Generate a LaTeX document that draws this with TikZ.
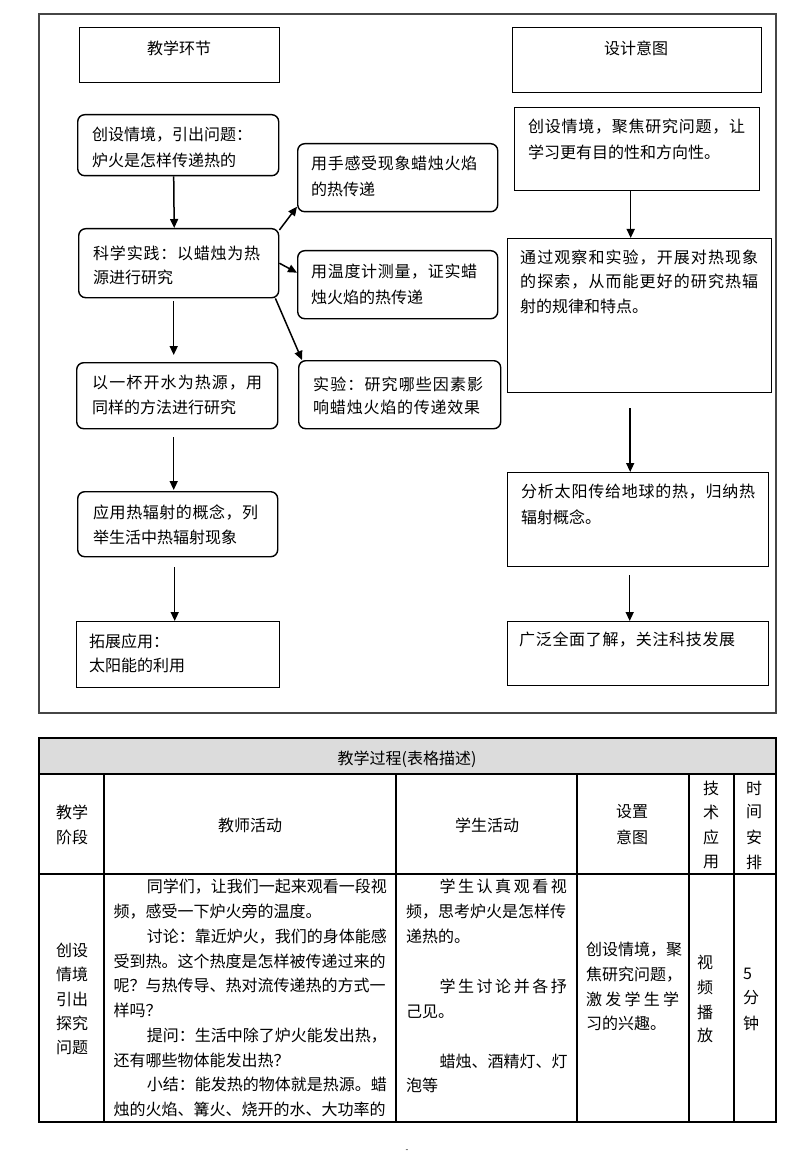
\documentclass[tikz,border=0pt]{standalone}
\usepackage{fontspec}
\newfontfamily\cjk{Noto Sans CJK SC}
\usetikzlibrary{arrows.meta}
\definecolor{hdrgray}{RGB}{220,220,220}
\definecolor{framegray}{RGB}{70,70,70}
\newcommand\spr[2]{\makebox[#1][s]{\sprfirst#2\relax}}
\def\sprfirst#1{#1\sprrest}
\def\sprrest#1{\ifx#1\relax\else\hfil#1\expandafter\sprrest\fi}
\begin{document}
\begin{tikzpicture}[x=1pt,y=-1pt,
  txt/.style={inner sep=0pt, anchor=west, font=\cjk\fontsize{16}{16}\selectfont},
  ctxt/.style={inner sep=0pt, anchor=center, font=\cjk\fontsize{16}{16}\selectfont},
  rbox/.style={draw, line width=1.4pt, rounded corners=7pt, anchor=north west, inner sep=0pt},
  sbox/.style={draw, line width=1.4pt, anchor=north west, inner sep=0pt},
  arr/.style={line width=1.5pt, -{Triangle[length=9pt,width=8pt]}},
  tline/.style={line width=1.2pt}]
\useasboundingbox (0,0) rectangle (800,1155);
\fill[white] (0,0) rectangle (800,1155);

% outer frame
\draw[line width=1.5pt, framegray] (39,14) rectangle (776,713);

% left column boxes
\node[sbox, minimum width=200pt, minimum height=55pt] (b0) at (79,27) {};
\node[rbox, minimum width=201pt, minimum height=61pt] (b1) at (77,114) {};
\node[rbox, minimum width=200pt, minimum height=69pt] (b2) at (78,228) {};
\node[rbox, minimum width=201pt, minimum height=66pt] (b3) at (76,362) {};
\node[rbox, minimum width=200pt, minimum height=65pt] (b4) at (77,491) {};
\node[sbox, minimum width=203pt, minimum height=66pt] (b5) at (76,621) {};
% middle boxes
\node[rbox, minimum width=200pt, minimum height=68pt] (r1) at (297,143) {};
\node[rbox, minimum width=200pt, minimum height=68pt] (r2) at (297,250) {};
\node[rbox, minimum width=202pt, minimum height=68pt] (r3) at (298,360) {};
% right column boxes
\node[sbox, minimum width=249pt, minimum height=65pt] (d0) at (512,27) {};
\node[sbox, minimum width=245pt, minimum height=83pt] (d1) at (514,107) {};
\node[sbox, minimum width=264pt, minimum height=154pt] (d2) at (507,238) {};
\node[sbox, minimum width=261pt, minimum height=94pt] (d3) at (507,472) {};
\node[sbox, minimum width=261pt, minimum height=64pt] (d4) at (507,621) {};

% texts
\node[ctxt] (t0) at (179,48) {教学环节};
\node[ctxt] (u0) at (636,48) {设计意图};
\node[txt] (t1a) at (92,135) {创设情境，引出问题：};
\node[txt] (t1b) at (92,160) {炉火是怎样传递热的};
\node[txt] (t2a) at (93,253) {\spr{167pt}{科学实践：以蜡烛为热}};
\node[txt] (t2b) at (93,277) {源进行研究};
\node[txt] (s1a) at (311,163) {\spr{166pt}{用手感受现象蜡烛火焰}};
\node[txt] (s1b) at (311,189) {的热传递};
\node[txt] (s2a) at (311,272) {\spr{166pt}{用温度计测量，证实蜡}};
\node[txt] (s2b) at (311,297) {烛火焰的热传递};
\node[txt] (s3a) at (313,384) {\spr{170pt}{实验：研究哪些因素影}};
\node[txt] (s3b) at (313,407) {\spr{167pt}{响蜡烛火焰的传递效果}};
\node[txt] (t3a) at (92,383) {\spr{170pt}{以一杯开水为热源，用}};
\node[txt] (t3b) at (92,407) {同样的方法进行研究};
\node[txt] (t4a) at (93,512) {\spr{165pt}{应用热辐射的概念，列}};
\node[txt] (t4b) at (93,537) {举生活中热辐射现象};
\node[txt] (t5a) at (89,641) {拓展应用：};
\node[txt] (t5b) at (89,665) {太阳能的利用};
\node[txt] (u1a) at (528,127) {\spr{217pt}{创设情境，聚焦研究问题，让}};
\node[txt] (u1b) at (528,152) {学习更有目的性和方向性。};
\node[txt] (u2a) at (520,258) {\spr{238pt}{通过观察和实验，开展对热现象}};
\node[txt] (u2b) at (520,282) {\spr{238pt}{的探索，从而能更好的研究热辐}};
\node[txt] (u2c) at (520,306) {射的规律和特点。};
\node[txt] (u3a) at (521,492) {\spr{234pt}{分析太阳传给地球的热，归纳热}};
\node[txt] (u3b) at (521,517) {辐射概念。};
\node[txt] (u4a) at (519,640) {\spr{216pt}{广泛全面了解，关注科技发展}};

% arrows left column
\draw[arr] ([xshift=-4.5pt]b1.south) -- ([xshift=-4.5pt]b2.north);
\draw[arr, shorten <=3pt, shorten >=7pt] ([xshift=-5pt]b2.south) -- ([xshift=-3.5pt]b3.north);
\draw[arr, shorten <=8pt, shorten >=1pt] ([xshift=-3.5pt]b3.south) -- ([xshift=-4pt]b4.north);
\draw[arr, shorten <=10pt] ([xshift=-3pt]b4.south) -- ([xshift=-3.5pt]b5.north);
% branches
\draw[arr] ([yshift=-2pt]b2.north east) -- ([yshift=-29pt]r1.west);
\draw[arr] (b2.east) -- ([yshift=12pt]r2.west);
\draw[arr] ([xshift=-4pt]b2.south east) -- ([xshift=4pt]r3.north west);
% arrows right column
\draw[arr] ([xshift=-6.5pt]d1.south) -- ([xshift=-9pt]d2.north);
\draw[arr, shorten <=15pt] ([xshift=-9.5pt]d2.south) -- ([xshift=-8pt]d3.north);
\draw[arr, shorten <=8pt] ([xshift=-8.5pt]d3.south) -- ([xshift=-8.5pt]d4.north);

% ---------- table ----------
\fill[hdrgray] (39,738) rectangle (776,774);
\draw[tline] (39,738) rectangle (776,1122);
\draw[tline] (39,774) -- (776,774);
\draw[tline] (39,874) -- (776,874);
\foreach \cx in {104,396,577,689,734} \draw[tline] (\cx,774) -- (\cx,1122);

\node[ctxt] (h0) at (407,759) {教学过程(表格描述)};
\node[txt] (h1a) at (56,812) {教学};
\node[txt] (h1b) at (56,837) {阶段};
\node[ctxt] (h2) at (250,825) {教师活动};
\node[ctxt] (h3) at (487,825) {学生活动};
\node[ctxt] (h4a) at (632,812) {设置};
\node[ctxt] (h4b) at (632,837) {意图};
\node[ctxt] (h5a) at (711,788) {技};
\node[ctxt] (h5b) at (711,812) {术};
\node[ctxt] (h5c) at (711,837) {应};
\node[ctxt] (h5d) at (711,862) {用};
\node[ctxt] (h6a) at (754,788) {时};
\node[ctxt] (h6b) at (754,812) {间};
\node[ctxt] (h6c) at (754,837) {安};
\node[ctxt] (h6d) at (754,862) {排};

\node[txt] (c1a) at (56,950) {创设};
\node[txt] (c1b) at (56,974) {情境};
\node[txt] (c1c) at (56,999) {引出};
\node[txt] (c1d) at (56,1023) {探究};
\node[txt] (c1e) at (56,1048) {问题};

\node[txt] (c2a) at (146.7,886.5) {同学们，让我们一起来观看一段视};
\node[txt] (c2b) at (113.3,911.3) {频，感受一下炉火旁的温度。};
\node[txt] (c2c) at (146.7,936.1) {讨论：靠近炉火，我们的身体能感};
\node[txt] (c2d) at (113.3,960.9) {受到热。这个热度是怎样被传递过来的};
\node[txt] (c2e) at (113.3,985.7) {呢？与热传导、热对流传递热的方式一};
\node[txt] (c2f) at (113.3,1010.5) {样吗？};
\node[txt] (c2g) at (146.7,1035.3) {提问：生活中除了炉火能发出热，};
\node[txt] (c2h) at (113.3,1060.1) {还有哪些物体能发出热？};
\node[txt] (c2i) at (146.7,1084.9) {小结：能发热的物体就是热源。蜡};
\node[txt] (c2j) at (113.3,1109.7) {烛的火焰、篝火、烧开的水、大功率的};

\node[txt] (c3a) at (439.3,886.7) {\spr{127.4pt}{学生认真观看视}};
\node[txt] (c3b) at (406,911.7) {频，思考炉火是怎样传};
\node[txt] (c3c) at (406,936.7) {递热的。};
\node[txt] (c3d) at (439.3,986.7) {\spr{127.4pt}{学生讨论并各抒}};
\node[txt] (c3e) at (406,1012) {己见。};
\node[txt] (c3f) at (439.3,1061.7) {蜡烛、酒精灯、灯};
\node[txt] (c3g) at (406,1085.7) {泡等};

\node[txt] (c4a) at (586,950) {创设情境，聚};
\node[txt] (c4b) at (586,975) {焦研究问题，};
\node[txt] (c4c) at (586,999.3) {\spr{93pt}{激发学生学}};
\node[txt] (c4d) at (586,1023.3) {习的兴趣。};

\node[ctxt] (c5a) at (705,962) {视};
\node[ctxt] (c5b) at (705,987) {频};
\node[ctxt] (c5c) at (705,1012) {播};
\node[ctxt] (c5d) at (705,1035) {放};

\node[txt] (c6a) at (743,974) {5};
\node[txt] (c6b) at (743,998) {分};
\node[txt] (c6c) at (743,1023) {钟};

\node[inner sep=0pt, font=\cjk\fontsize{8}{8}\selectfont] (pg) at (407,1151) {-};
\end{tikzpicture}
\end{document}
